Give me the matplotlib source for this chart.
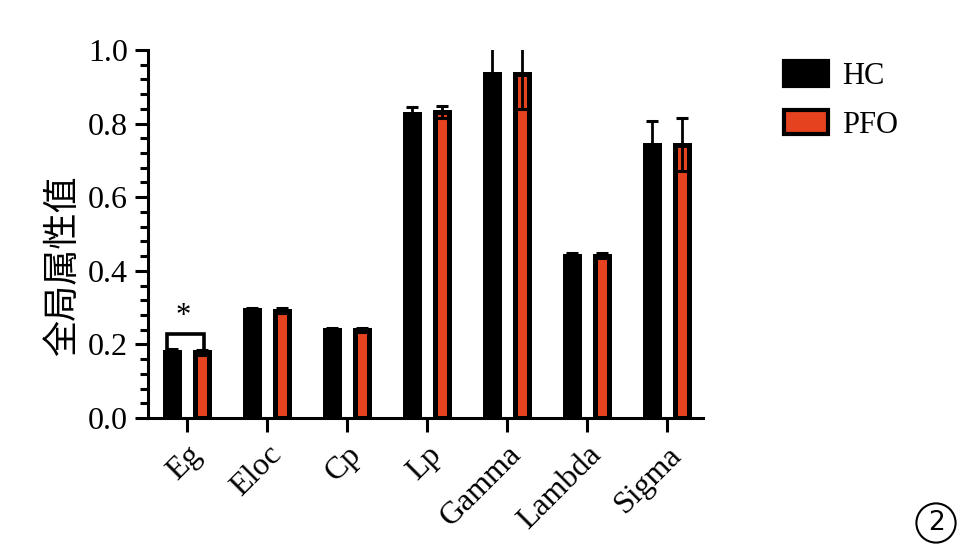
import matplotlib.pyplot as plt
import numpy as np
from matplotlib.patches import Patch

plt.rcParams['font.family'] = ['Liberation Serif', 'Noto Sans CJK SC']

categories = ['Eg', 'Eloc', 'Cp', 'Lp', 'Gamma', 'Lambda', 'Sigma']
hc_mean = [0.180, 0.293, 0.239, 0.827, 0.936, 0.441, 0.743]
hc_err = [0.007, 0.006, 0.006, 0.017, 0.09, 0.007, 0.065]
pfo_mean = [0.179, 0.292, 0.239, 0.832, 0.936, 0.441, 0.743]
pfo_err = [0.007, 0.006, 0.006, 0.016, 0.095, 0.007, 0.073]

red = '#e5421f'
x = np.arange(len(categories))
w = 0.175
off = 0.19

fig = plt.figure(figsize=(9.61, 5.46), dpi=100)
ax = fig.add_axes([0.154, 0.2344, 0.5775, 0.674])

ax.bar(x - off, hc_mean, w, color='black', edgecolor='black', linewidth=3.6, zorder=2)
ax.bar(x + off, pfo_mean, w, color=red, edgecolor='black', linewidth=3.6, zorder=2)
ax.errorbar(x - off, hc_mean, yerr=[np.zeros(len(x)), hc_err], fmt='none',
            ecolor='black', elinewidth=2, capsize=4, capthick=2.2, zorder=3)
ax.errorbar(x + off, pfo_mean, yerr=pfo_err, fmt='none',
            ecolor='black', elinewidth=2, capsize=4, capthick=2.2, zorder=3)

# significance bracket on Eg
yb = 0.228
xl, xr = x[0] - off - 0.06, x[0] + off + 0.02
ax.plot([xl, xl, xr, xr],
        [hc_mean[0] + 0.006, yb, yb, pfo_mean[0] + 0.006],
        color='black', lw=2.6, zorder=4, solid_joinstyle='miter')
ax.text(x[0] - 0.05, yb + 0.008, '*', ha='center', va='bottom', fontsize=22)

ax.set_xlim(-0.49, 6.45)
ax.set_ylim(0, 1.0)
ax.set_yticks(np.arange(0, 1.01, 0.2))
ax.set_yticks(np.arange(0, 1.01, 0.04), minor=True)
ax.set_yticklabels(['0.0', '0.2', '0.4', '0.6', '0.8', '1.0'], fontsize=23)
ax.set_xticks(x)
ax.set_xticklabels(categories, rotation=45, ha='right', rotation_mode='anchor', fontsize=23)
ax.tick_params(axis='y', which='major', length=9.4, width=2.2, pad=5)
ax.tick_params(axis='y', which='minor', length=5.8, width=2.2)
ax.tick_params(axis='x', length=10, width=2.2, pad=6)
for s in ['top', 'right']:
    ax.spines[s].set_visible(False)
for s in ['left', 'bottom']:
    ax.spines[s].set_linewidth(2.2)
ax.set_ylabel('全局属性值', fontsize=26, family=['Noto Sans CJK SC'])
ax.yaxis.set_label_coords(-0.12, 0.413)

handles = [Patch(facecolor='black', edgecolor='black', linewidth=3),
           Patch(facecolor=red, edgecolor='black', linewidth=3)]
fig.legend(handles, ['HC', 'PFO'], loc='upper left', bbox_to_anchor=(0.803, 0.91),
           frameon=False, fontsize=22, handlelength=1.45, handleheight=0.85,
           labelspacing=0.62, handletextpad=0.45, borderaxespad=0)

fig.text(936 / 961, 1 - 523 / 546, '2', ha='center', va='center', fontsize=19,
         family='DejaVu Sans',
         bbox=dict(boxstyle='circle,pad=0.25', facecolor='none', edgecolor='black', linewidth=1.5))

fig.savefig('out.png', dpi=100)
